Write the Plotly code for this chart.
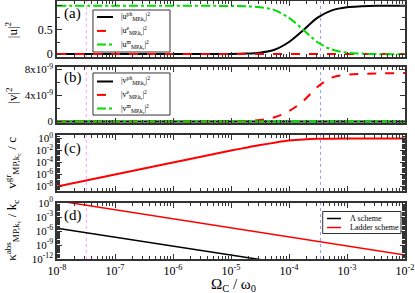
import plotly.graph_objects as go

# ---------------- data ----------------
omega = [1e-8, 1e-7, 1e-6, 1e-5, 1.78e-5, 3.16e-5, 5.62e-5, 1e-4, 1.78e-4,
         3.16e-4, 5.62e-4, 1e-3, 1.78e-3, 3.16e-3, 1e-2]
u_ph = [0, 0, 0, 0.003, 0.01, 0.03, 0.09, 0.25, 0.5, 0.76, 0.91, 0.97, 0.99, 1.0, 1.0]
u_e = [0, 0, 0, 0, 0, 0, 0, 0, 0, 0, 0, 0, 0, 0, 0]
u_m = [1, 1, 1, 0.997, 0.99, 0.97, 0.91, 0.75, 0.5, 0.24, 0.09, 0.03, 0.01, 0.0, 0.0]
v_ph = [0, 0, 0, 0, 0, 0, 0, 0, 0, 0, 0, 0, 0, 0, 0]
v_e = [0, 0, 0.01e-9, 0.05e-9, 0.1e-9, 0.25e-9, 0.65e-9, 1.6e-9, 3.2e-9,
       5.4e-9, 6.8e-9, 7.2e-9, 7.35e-9, 7.4e-9, 7.5e-9]
v_m = [0, 0, 0, 0, 0, 0, 0, 0, 0, 0, 0, 0, 0, 0, 0]
v_gr = [1e-8, 1e-6, 1e-4, 9.5e-3, 2.8e-2, 7.9e-2, 0.2, 0.45, 0.71, 0.89,
        0.95, 0.98, 0.99, 1.0, 1.0]
omega_k = [1e-8, 1e-7, 1e-6, 1e-5, 1e-4, 1e-3, 1e-2]
kappa_lambda = [3.7e-6, 4.4e-8, 5e-10, 6.3e-12, 7.9e-14, 1e-15, 1.3e-17]
kappa_ladder = [3.2, 3.5e-2, 4e-4, 4.5e-6, 5e-8, 6.3e-10, 7.1e-12]
markers = [3.2e-8, 3.5e-4]
marker_colors = ["#ff99ff", "#9999ff"]

x_tickvals = [1e-8, 1e-7, 1e-6, 1e-5, 1e-4, 1e-3, 1e-2]
x_ticktext = ["10<sup>-8</sup>", "10<sup>-7</sup>", "10<sup>-6</sup>", "10<sup>-5</sup>",
              "10<sup>-4</sup>", "10<sup>-3</sup>", "10<sup>-2</sup>"]
a_tickvals = [0, 0.5, 1]
a_ticktext = ["0", "0.5", "1"]
b_tickvals = [0, 4e-9, 8e-9]
b_ticktext = ["0", "4x10<sup>-9</sup>", "8x10<sup>-9</sup>"]
c_tickvals = [1e-8, 1e-6, 1e-4, 1e-2, 1]
c_ticktext = ["10<sup>-8</sup>", "10<sup>-6</sup>", "10<sup>-4</sup>", "10<sup>-2</sup>", "10<sup>0</sup>"]
d_tickvals = [1e-12, 1e-9, 1e-6, 1e-3, 1]
d_ticktext = ["10<sup>-12</sup>", "10<sup>-9</sup>", "10<sup>-6</sup>", "10<sup>-3</sup>", "10<sup>0</sup>"]

BLACK, RED, GREEN = "#000000", "#ff0000", "#00dd00"
FONT = "Liberation Serif"
FRAME = "#333333"

fig = go.Figure()
sub = "<sub>MP,k<sub>c</sub></sub>"
names_a = ["|u<sup>ph</sup>" + sub + "|<sup>2</sup>", "|u<sup>e</sup>" + sub + "|<sup>2</sup>",
           "|u<sup>m</sup>" + sub + "|<sup>2</sup>"]
names_b = ["|v<sup>ph</sup>" + sub + "|<sup>2</sup>", "|v<sup>e</sup>" + sub + "|<sup>2</sup>",
           "|v<sup>m</sup>" + sub + "|<sup>2</sup>"]
names_d = ["Λ scheme", "Ladder scheme"]

styles = [dict(color=BLACK, width=2), dict(color=RED, width=2, dash="dash"),
          dict(color=GREEN, width=2, dash="dashdot")]

# panel a
for yv, st, nm in zip([u_ph, u_e, u_m], styles, names_a):
    fig.add_trace(go.Scatter(x=omega, y=yv, mode="lines", line=dict(st, shape="spline"),
                             name=nm, showlegend=False, xaxis="x", yaxis="y"))
# panel b
for yv, st, nm in zip([v_ph, v_e, v_m], styles, names_b):
    fig.add_trace(go.Scatter(x=omega, y=yv, mode="lines", line=dict(st, shape="spline"),
                             name=nm, showlegend=False, xaxis="x2", yaxis="y2"))
# panel c
fig.add_trace(go.Scatter(x=omega, y=v_gr, mode="lines", line=dict(color=RED, width=2, shape="spline"),
                         showlegend=False, xaxis="x3", yaxis="y3"))
# panel d
d_styles = [dict(color=BLACK, width=1.5), dict(color=RED, width=1.5)]
for yv, st, nm in zip([kappa_lambda, kappa_ladder], d_styles, names_d):
    fig.add_trace(go.Scatter(x=omega_k, y=yv, mode="lines", line=st, name=nm,
                             showlegend=False, xaxis="x4", yaxis="y4"))

# vertical dotted markers
for i in range(1, 5):
    xr = "x" if i == 1 else f"x{i}"
    yr = ("y" if i == 1 else f"y{i}") + " domain"
    for xv, col in zip(markers, marker_colors):
        fig.add_shape(type="line", xref=xr, yref=yr, x0=xv, x1=xv, y0=0, y1=1,
                      line=dict(color=col, width=1, dash="dot"), layer="below")


def minor_log(lo, hi):
    vals = []
    for e in range(lo, hi):
        for k in range(2, 10):
            vals.append(k * 10.0 ** e)
    return vals


axis_common = dict(showline=True, linecolor=FRAME, linewidth=1.5, mirror="allticks",
                   ticks="inside", ticklen=5, tickcolor=FRAME, tickwidth=1,
                   showgrid=False, zeroline=False, automargin=False,
                   tickfont=dict(family=FONT, size=12, color="#000"))

domains = [[0.783, 1.0], [0.527, 0.744], [0.264, 0.481], [0.0, 0.217]]
x_minor = minor_log(-8, -2)
for i in range(1, 5):
    key = "xaxis" if i == 1 else f"xaxis{i}"
    fig.layout[key] = dict(axis_common, type="log", range=[-8, -2], anchor="y" if i == 1 else f"y{i}",
                           domain=[0, 1], tickvals=x_tickvals, ticktext=x_ticktext,
                           showticklabels=(i == 4),
                           minor=dict(ticks="inside", ticklen=3, tickcolor=FRAME, tickvals=x_minor))

fig.layout["yaxis"] = dict(axis_common, domain=domains[0], anchor="x", range=[-0.06, 1.1],
                           tickvals=a_tickvals, ticktext=a_ticktext,
                           minor=dict(ticks="inside", ticklen=3, tickcolor=FRAME, tickvals=[0.25, 0.75]))
fig.layout["yaxis2"] = dict(axis_common, domain=domains[1], anchor="x2", range=[-0.23e-9, 8.4e-9],
                            tickvals=b_tickvals, ticktext=b_ticktext,
                            tickfont=dict(family=FONT, size=11, color="#000"),
                            minor=dict(ticks="inside", ticklen=3, tickcolor=FRAME, tickvals=[2e-9, 6e-9]))
fig.layout["yaxis3"] = dict(axis_common, domain=domains[2], anchor="x3", type="log", range=[-8.75, 0.6],
                            tickvals=c_tickvals, ticktext=c_ticktext,
                            tickfont=dict(family=FONT, size=11, color="#000"),
                            minor=dict(ticks="inside", ticklen=3, tickcolor=FRAME,
                                       tickvals=minor_log(-9, 1) + [1e-7, 1e-5, 1e-3, 1e-1]))
fig.layout["yaxis4"] = dict(axis_common, domain=domains[3], anchor="x4", type="log", range=[-12, 0],
                            tickvals=d_tickvals, ticktext=d_ticktext,
                            tickfont=dict(family=FONT, size=11, color="#000"),
                            minor=dict(ticks="inside", ticklen=3, tickcolor=FRAME,
                                       tickvals=minor_log(-12, 0)))

# ---- legend boxes (drawn by hand, paper coordinates) ----
ann = []


def legend_box(x0, x1, y0, y1, rows, names, stys, sx0, sx1, tx, fsize):
    fig.add_shape(type="rect", xref="paper", yref="paper", x0=x0, x1=x1, y0=y0, y1=y1,
                  fillcolor="white", line=dict(color=FRAME, width=1), layer="above")
    for yy, nm, st in zip(rows, names, stys):
        fig.add_shape(type="line", xref="paper", yref="paper", x0=sx0, x1=sx1, y0=yy, y1=yy,
                      line=st, layer="above")
        ann.append(dict(text=nm, x=tx, y=yy, xref="paper", yref="paper", showarrow=False,
                        xanchor="left", yanchor="middle",
                        font=dict(family=FONT, size=fsize, color="#000")))


legend_box(0.1034, 0.3247, 0.8023, 0.9651, [0.938, 0.884, 0.831], names_a, styles,
           0.115, 0.161, 0.178, 8)
legend_box(0.1034, 0.3247, 0.558, 0.721, [0.688, 0.636, 0.583], names_b, styles,
           0.115, 0.161, 0.178, 8)
legend_box(0.7635, 0.9885, 0.0988, 0.1841, [0.157, 0.122], names_d, d_styles,
           0.776, 0.816, 0.836, 8)

ytitles = [("|u|<sup>2</sup>", 0.89), ("|v|<sup>2</sup>", 0.636),
           ("v<sup>gr</sup>" + sub + " / c", 0.372),
           ("κ<sup>abs</sup>" + sub + " / k<sub>c</sub>", 0.112)]
for txt, yy in ytitles:
    ann.append(dict(text=txt, x=-0.13, y=yy, xref="paper", yref="paper", showarrow=False,
                    textangle=-90, xanchor="center", yanchor="middle",
                    font=dict(family=FONT, size=13, color="#000")))
for txt, yy in [("(a)", 0.953), ("(b)", 0.705), ("(c)", 0.43), ("(d)", 0.17)]:
    ann.append(dict(text=txt, x=0.014, y=yy, xref="paper", yref="paper", showarrow=False,
                    xanchor="left", yanchor="middle", font=dict(family=FONT, size=15, color="#000")))
ann.append(dict(text="Ω<sub>C</sub> / ω<sub>0</sub>", x=0.506, y=-0.1, xref="paper", yref="paper",
                showarrow=False, xanchor="center", yanchor="middle",
                font=dict(family=FONT, size=15, color="#000")))

fig.update_layout(annotations=ann, width=415, height=293, showlegend=False,
                  margin=dict(l=57, r=10, t=1, b=34, autoexpand=False),
                  paper_bgcolor="white", plot_bgcolor="white",
                  font=dict(family=FONT))

fig.write_html("out.html", config={"displayModeBar": False},
               post_script="document.body.style.margin='0';document.body.style.padding='0';")
